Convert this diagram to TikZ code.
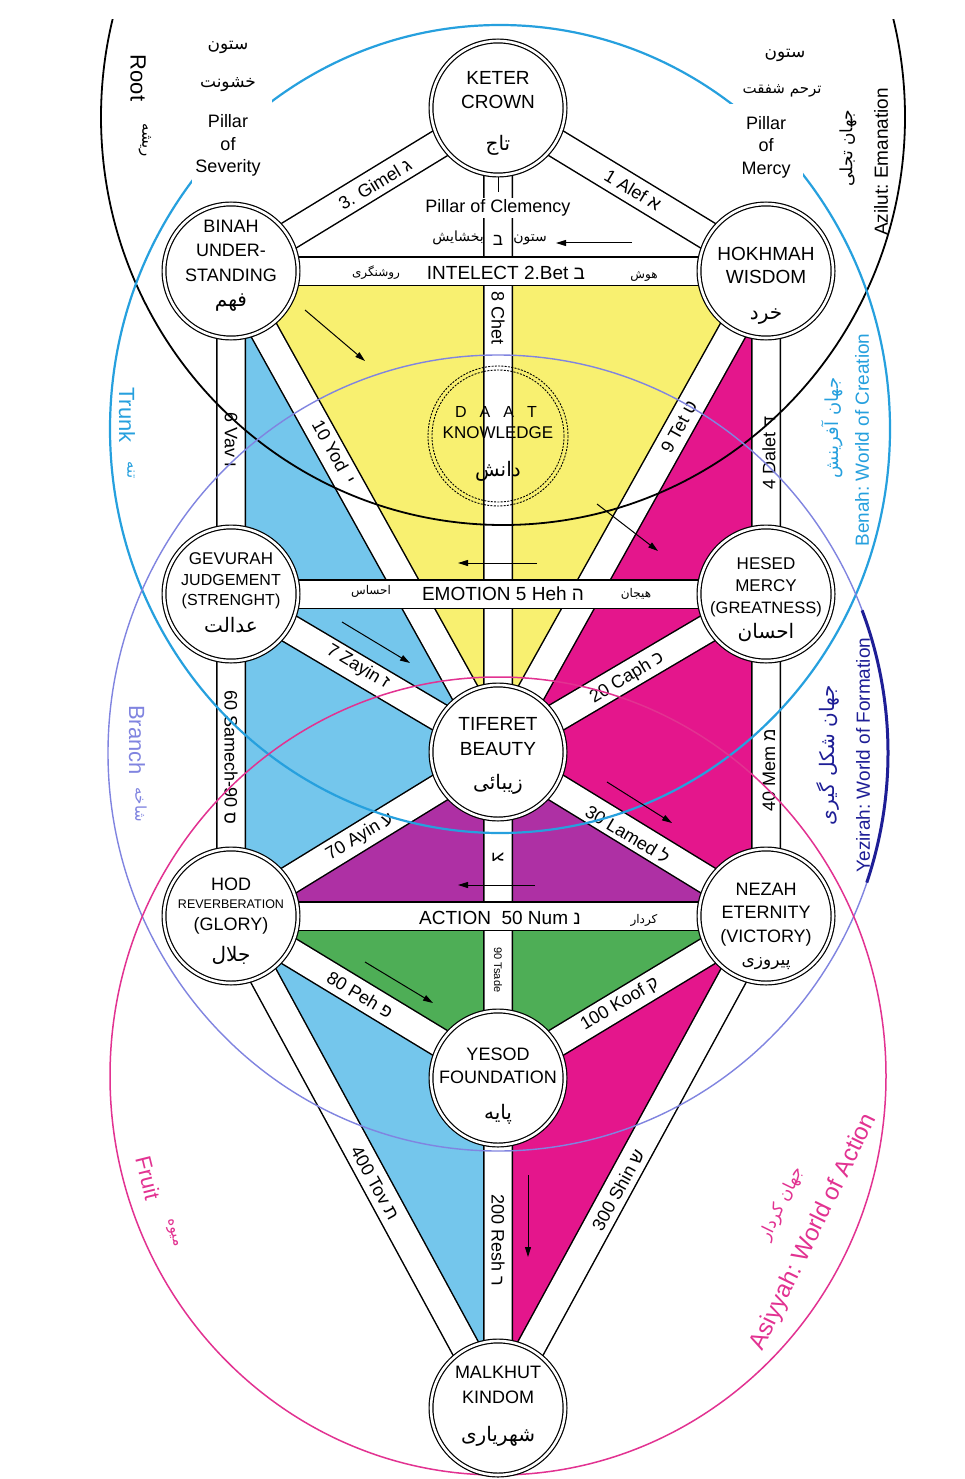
\documentclass[tikz,border=0pt]{standalone}
\usepackage{fontspec}
\setmainfont{Liberation Sans}
\newfontfamily\fafont[Script=Arabic]{DejaVu Sans}
\newfontfamily\hefont[Script=Hebrew]{Liberation Sans}
\TeXXeTstate=1
\usetikzlibrary{arrows.meta}
\newcommand{\fsz}[1]{\fontsize{#1}{#1}\selectfont}
\newcommand{\fatx}[1]{{\fafont\beginR #1\endR}}
\newcommand{\hetx}[1]{{\hefont #1}}
\definecolor{cyel}{RGB}{248,240,112}
\definecolor{cblue}{RGB}{116,198,236}
\definecolor{cmag}{RGB}{228,22,140}
\definecolor{cpur}{RGB}{174,48,164}
\definecolor{cgrn}{RGB}{78,174,86}
\definecolor{wcyan}{RGB}{38,160,222}
\definecolor{wlav}{RGB}{128,132,224}
\definecolor{wnavy}{RGB}{30,30,150}
\definecolor{wpink}{RGB}{226,50,145}
\tikzset{
  bandO/.style={line width=30pt, black},
  bandI/.style={line width=27pt, white},
  sefc/.style={circle, draw, fill=white, minimum size=134pt, inner sep=0pt, line width=1.2pt, double=white, double distance=2.6pt},
  sl/.style={anchor=base, inner sep=0pt, font=\fsz{18}},
  sp/.style={anchor=base, inner sep=0pt, font=\fsz{20}},
  blab/.style={inner sep=0pt, font=\fsz{18}},
  pblab/.style={inner sep=0pt, font=\fsz{12}},
  arr/.style={line width=1pt, -{Triangle[length=10pt,width=6pt]}},
  daat/.style={line width=0.9pt, dash pattern=on 2pt off 1.3pt},
  olab/.style={inner sep=0pt, font=\fsz{19}},
}
\begin{document}
\begin{tikzpicture}[x=1pt,y=-1pt]
\useasboundingbox (0,0) rectangle (964,1479);
\fill[white] (0,0) rectangle (964,1479);
% centres
\coordinate (K) at (498,108);
\coordinate (B) at (231,271);
\coordinate (H) at (766,271);
\coordinate (G) at (231,594);
\coordinate (C) at (766,594);
\coordinate (T) at (498,752);
\coordinate (D) at (231,916);
\coordinate (N) at (766,916);
\coordinate (Y) at (498,1078);
\coordinate (M) at (498,1408);
% coloured fields
\fill[cyel] (B)--(H)--(T)--cycle;
\fill[cblue] (B)--(T)--(D)--cycle;
\fill[cmag] (H)--(T)--(N)--cycle;
\fill[cpur] (T)--(D)--(N)--cycle;
\fill[cgrn] (D)--(N)--(Y)--cycle;
\fill[cblue] (D)--(Y)--(M)--cycle;
\fill[cmag] (N)--(Y)--(M)--cycle;
% paths
\draw[bandO] (K)--(B) (K)--(H) (K)--(T) (B)--(T) (H)--(T) (B)--(G) (G)--(D) (H)--(C) (C)--(N) (G)--(T) (C)--(T) (T)--(D) (T)--(N) (T)--(Y) (D)--(Y) (N)--(Y) (D)--(M) (N)--(M) (Y)--(M);
\draw[bandI] (K)--(B) (K)--(H) (K)--(T) (B)--(T) (H)--(T) (B)--(G) (G)--(D) (H)--(C) (C)--(N) (G)--(T) (C)--(T) (T)--(D) (T)--(N) (T)--(Y) (D)--(Y) (N)--(Y) (D)--(M) (N)--(M) (Y)--(M);
\draw[bandO] (B)--(H) (G)--(C) (D)--(N);
\draw[bandI] (B)--(H) (G)--(C) (D)--(N);
\draw[line width=1pt] (498,176)--(498,192);
% pillar of clemency
\node[fill=white, inner sep=2pt, font=\fsz{18}] (poc) at (498,208) {Pillar of Clemency};
\node[pblab, font=\fsz{14}] (pocl) at (458,238) {\fatx{بخشایش}};
\node[pblab, font=\fsz{17}] (pocm) at (498,240) {\hetx{ב}};
\node[pblab, font=\fsz{14}] (pocr) at (530,240) {\fatx{ستون}};
% horizontal labels
\node[blab, font=\fsz{19}] (lint) at (506,273) {INTELECT 2.Bet \hetx{ב}};
\node[pblab] (intl) at (376,273) {\fatx{روشنگری}};
\node[pblab] (intr) at (644,276) {\fatx{هوش}};
\node[blab, font=\fsz{19}] (lemo) at (503,594) {EMOTION 5 Heh \hetx{ה}};
\node[pblab] (emol) at (371,591) {\fatx{احساس}};
\node[pblab] (emor) at (636,594) {\fatx{هیجان}};
\node[blab, font=\fsz{19}] (lact) at (500,918) {ACTION\ \ 50 Num \hetx{נ}};
\node[pblab] (actr) at (644,920) {\fatx{کردار}};
% diagonal and vertical labels
\node[blab, rotate=31] (lgim) at (375,184) {3. Gimel \hetx{ג}};
\node[blab, rotate=-31] (lalef) at (633,190) {1 Alef \hetx{א}};
\node[blab, rotate=-90] (lchet) at (498,318) {8 Chet};
\node[blab, rotate=-61] (lyod) at (334,452) {10 Yod\ \ \hetx{י}};
\node[blab, rotate=61] (ltet) at (679,427) {9 Tet \hetx{ט}};
\node[blab, rotate=-90] (lvav) at (231,440) {6 Vav \hetx{ו}};
\node[blab, rotate=90] (ldal) at (769,453) {4 Dalet \hetx{ד}};
\node[blab, rotate=-31] (lzay) at (358,667) {7 Zayin \hetx{ז}};
\node[blab, rotate=31] (lcaph) at (627,678) {20 Caph \hetx{כ}};
\node[blab, rotate=-90] (lsam) at (231,757) {60 Samech-90 \hetx{ס}};
\node[blab, rotate=90] (lmem) at (769,770) {40 Mem \hetx{מ}};
\node[blab, rotate=31] (layin) at (360,837) {70 Ayin \hetx{ע}};
\node[blab, rotate=-31] (llam) at (628,834) {30 Lamed \hetx{ל}};
\node[blab, rotate=-90] (ltsl) at (498,857) {\hetx{צ}};
\node[blab, rotate=-90, font=\fsz{11}] (ltsa) at (498,970) {90 Tsade};
\node[blab, rotate=-31] (lpeh) at (360,995) {80 Peh \hetx{פ}};
\node[blab, rotate=31] (lkoof) at (620,1004) {100 Koof \hetx{ק}};
\node[blab, rotate=-61] (ltov) at (375,1183) {400 Tov \hetx{ת}};
\node[blab, rotate=61] (lshin) at (618,1190) {300 Shin \hetx{ש}};
\node[blab, rotate=-90] (lresh) at (498,1240) {200 Resh \hetx{ר}};
% world circles
\begin{scope}
\clip (0,20) rectangle (964,1479);
\draw[line width=1.8pt] (503,117) ellipse [x radius=402, y radius=408];
\end{scope}
\draw[wcyan, line width=2.2pt] (500,429) ellipse [x radius=390, y radius=404];
\draw[wlav, line width=1.4pt] (498,753) ellipse [x radius=390, y radius=398];
\draw[wnavy, line width=3pt] (498,753) ++(-21:390 and 398) arc[start angle=-21, end angle=19, x radius=390, y radius=398];
\draw[wpink, line width=1.5pt] (498,1076) ellipse [x radius=388, y radius=399];
% daat
\draw[daat] (498,436) circle (70);
\draw[daat] (498,436) circle (66);
\node[sl, font=\fsz{16}] (daat1) at (496,417) {D\hspace{13pt}A\hspace{13pt}A\hspace{13pt}T};
\node[sl, font=\fsz{17}] (daat2) at (498,438) {KNOWLEDGE};
\node[sp] (daat3) at (498,476) {\fatx{دانش}};
% arrows
\draw[arr] (632,243)--(556,243);
\draw[arr] (305,310)--(365,361);
\draw[arr] (597,504)--(658,551);
\draw[arr] (537,563)--(458,563);
\draw[arr] (342,622)--(410,663);
\draw[arr] (607,782)--(672,823);
\draw[arr] (535,885)--(458,885);
\draw[arr] (365,962)--(433,1003);
\draw[arr] (528,1175)--(528,1257);
% sefirot
\node[sefc] (keter) at (K) {};
\node[sefc] (binah) at (B) {};
\node[sefc] (hokhmah) at (H) {};
\node[sefc] (gevurah) at (G) {};
\node[sefc] (hesed) at (C) {};
\node[sefc] (tiferet) at (T) {};
\node[sefc] (hod) at (D) {};
\node[sefc] (nezah) at (N) {};
\node[sefc] (yesod) at (Y) {};
\node[sefc] (malkhut) at (M) {};
\node[sl, font=\fsz{19}] (k1) at (498,85) {KETER};
\node[sl, font=\fsz{19}] (k2) at (498,109) {CROWN};
\node[sp] (k3) at (498,151) {\fatx{تاج}};
\node[sl] (b1) at (231,233) {BINAH};
\node[sl] (b2) at (231,257) {UNDER-};
\node[sl] (b3) at (231,281) {STANDING};
\node[sp] (b4) at (231,306) {\fatx{فهم}};
\node[sl, font=\fsz{19}] (h1) at (766,260) {HOKHMAH};
\node[sl, font=\fsz{19}] (h2) at (766,283) {WISDOM};
\node[sp] (h3) at (766,319) {\fatx{خرد}};
\node[sl, font=\fsz{17}] (g1) at (231,564) {GEVURAH};
\node[sl, font=\fsz{16}] (g2) at (231,585) {JUDGEMENT};
\node[sl, font=\fsz{16}] (g3) at (231,605) {(STRENGHT)};
\node[sp] (g4) at (231,632) {\fatx{عدالت}};
\node[sl, font=\fsz{17}] (c1) at (766,569) {HESED};
\node[sl, font=\fsz{17}] (c2) at (766,591) {MERCY};
\node[sl, font=\fsz{16.5}] (c3) at (766,613) {(GREATNESS)};
\node[sp] (c4) at (766,638) {\fatx{احسان}};
\node[sl, font=\fsz{19}] (t1) at (498,730) {TIFERET};
\node[sl, font=\fsz{19}] (t2) at (498,755) {BEAUTY};
\node[sp] (t3) at (498,789) {\fatx{زیبائی}};
\node[sl] (d1) at (231,890) {HOD};
\node[sl, font=\fsz{12.5}] (d2) at (231,908) {REVERBERATION};
\node[sl] (d3) at (231,930) {(GLORY)};
\node[sp] (d4) at (231,961) {\fatx{جلال}};
\node[sl] (n1) at (766,895) {NEZAH};
\node[sl] (n2) at (766,918) {ETERNITY};
\node[sl] (n3) at (766,942) {(VICTORY)};
\node[sp, font=\fsz{17}] (n4) at (766,965) {\fatx{پیروزی}};
\node[sl] (y1) at (498,1060) {YESOD};
\node[sl] (y2) at (498,1083) {FOUNDATION};
\node[sp] (y3) at (498,1119) {\fatx{پایه}};
\node[sl] (m1) at (498,1378) {MALKHUT};
\node[sl] (m2) at (498,1403) {KINDOM};
\node[sp] (m3) at (498,1441) {\fatx{شهریاری}};
% outer labels
\node[olab, font=\fsz{22}, rotate=-90] (root) at (138,78) {Root};
\node[olab, font=\fsz{15}, rotate=-90] (rootfa) at (145,140) {\fatx{ریشه}};
\node[fill=white, minimum width=80pt, minimum height=84pt, inner sep=0pt] (sevbg) at (232,141) {};
\node[sp, font=\fsz{17}] (sev1) at (228,50) {\fatx{ستون}};
\node[sp, font=\fsz{17}] (sev2) at (228,88) {\fatx{خشونت}};
\node[sl] (sev3) at (228,128) {Pillar};
\node[sl] (sev4) at (228,151) {of};
\node[sl] (sev5) at (228,173) {Severity};
\node[fill=white, minimum width=78pt, minimum height=82pt, inner sep=0pt] (merbg) at (764,145) {};
\node[sp, font=\fsz{17}] (mer1) at (785,58) {\fatx{ستون}};
\node[sp, font=\fsz{15}] (mer2) at (782,94) {\fatx{ترحم شفقت}};
\node[sl] (mer3) at (766,130) {Pillar};
\node[sl] (mer4) at (766,152) {of};
\node[sl] (mer5) at (766,175) {Mercy};
\node[olab, rotate=90] (azil) at (881,162) {Azilut:\ Emanation};
\node[olab, font=\fsz{17}, rotate=90] (azilfa) at (848,148) {\fatx{جهان تجلی}};
\node[olab, font=\fsz{22}, rotate=-90, text=wcyan] (trunk) at (127,415) {Trunk};
\node[olab, font=\fsz{15}, rotate=-90, text=wcyan] (trunkfa) at (131,470) {\fatx{تنه}};
\node[olab, rotate=90, text=wcyan] (benah) at (862,440) {Benah:\ World of Creation};
\node[olab, font=\fsz{18}, rotate=90, text=wcyan] (benahfa) at (832,428) {\fatx{جهان آفرینش}};
\node[olab, font=\fsz{22}, rotate=-90, text=wlav] (branch) at (137,740) {Branch};
\node[olab, font=\fsz{15}, rotate=-90, text=wlav] (branchfa) at (141,805) {\fatx{شاخه}};
\node[olab, rotate=90, text=wnavy] (yez) at (863,755) {Yezirah:\ World of Formation};
\node[olab, font=\fsz{20}, rotate=90, text=wnavy] (yezfa) at (828,755) {\fatx{جهان شکل گیری}};
\node[olab, font=\fsz{22}, rotate=-76, text=wpink] (fruit) at (148,1178) {Fruit};
\node[olab, font=\fsz{15}, rotate=-76, text=wpink] (fruitfa) at (172,1233) {\fatx{میوه}};
\node[olab, font=\fsz{24}, rotate=64, text=wpink] (asi) at (814,1232) {Asiyyah:\ World of Action};
\node[olab, font=\fsz{17}, rotate=64, text=wpink] (asifa) at (782,1204) {\fatx{جهان کردار}};
\end{tikzpicture}
\end{document}
